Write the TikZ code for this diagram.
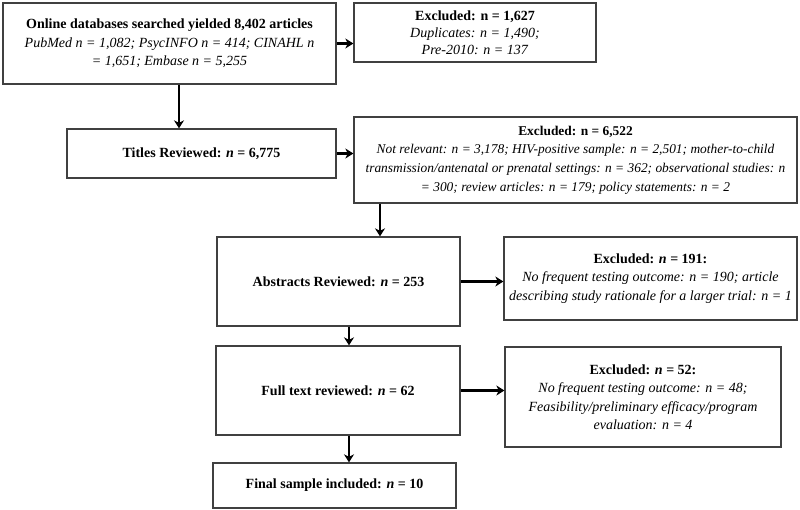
\documentclass[tikz,border=0pt]{standalone}
\usepackage{fontspec}
\setmainfont{Liberation Serif}
\usetikzlibrary{arrows.meta}
\tikzset{
    box/.style={rectangle, draw=black!75, line width=1.3pt, align=center, inner sep=0pt,
        font=\fontsize{14}{18.5}\selectfont},
    arr/.style={line width=2.2pt, -{Stealth[length=8pt, width=10pt, inset=2.5pt]}}
}

\begin{document}
\begin{tikzpicture}[x=1pt, y=-1pt]
    \useasboundingbox (0,0) rectangle (800,510);

    \node (online) [box, minimum width=333pt, minimum height=81pt] at (169.5, 43.5) {\textbf{Online databases searched yielded 8,402 articles}\\ \textit{PubMed n = 1,082; PsycINFO n = 414; CINAHL n}\\ \textit{= 1,651; Embase n = 5,255}};
    \node (excl1627) [box, minimum width=242pt, minimum height=59pt, font=\fontsize{14}{17}\selectfont] at (475, 32.5) {\textbf{Excluded: n = 1,627}\\ \textit{Duplicates: n = 1,490;}\\ \textit{Pre-2010: n = 137}};

    \node (titles) [box, minimum width=269pt, minimum height=49pt] at (201.5, 153.5) {\textbf{Titles Reviewed: \textit{n} = 6,775}};
    \node (excl6522) [box, minimum width=443pt, minimum height=86pt, font=\fontsize{13.4}{18.8}\selectfont] at (575.5, 160) {\textbf{Excluded: n = 6,522}\\ \textit{Not relevant: n = 3,178; HIV-positive sample: n = 2,501; mother-to-child}\\ \textit{transmission/antenatal or prenatal settings: n = 362; observational studies: n}\\ \textit{= 300; review articles: n = 179; policy statements: n = 2}};

    \node (abstracts) [box, minimum width=243pt, minimum height=89pt] at (338.5, 281.5) {\textbf{Abstracts Reviewed: \textit{n} = 253}};
    \node (excl191) [box, minimum width=293pt, minimum height=83pt] at (650.5, 278.5) {\textbf{Excluded: \textit{n} = 191:}\\ \textit{No frequent testing outcome: n = 190; article}\\ \textit{describing study rationale for a larger trial: n = 1}};

    \node (fulltext) [box, minimum width=244pt, minimum height=89pt] at (338, 390.5) {\textbf{Full text reviewed: \textit{n} = 62}};
    \node (excl52) [box, minimum width=276pt, minimum height=100pt] at (643, 397) {\textbf{Excluded: \textit{n} = 52:}\\ \textit{No frequent testing outcome: n = 48;}\\ \textit{Feasibility/preliminary efficacy/program}\\ \textit{evaluation: n = 4}};

    \node (final) [box, minimum width=243pt, minimum height=45pt] at (334.5, 485.5) {\textbf{Final sample included: \textit{n} = 10}};

    % sideways to the exclusions
    \draw[arr] (online.east) -- (online.east -| excl1627.west);
    \draw[arr] (titles.east) -- (titles.east -| excl6522.west);
    \draw[arr] (abstracts.east) -- (abstracts.east -| excl191.west);
    \draw[arr] (fulltext.east) -- (fulltext.east -| excl52.west);

    % down the main line
    \draw[arr] ([xshift=9.5pt]online.south) -- ([xshift=-22.5pt]titles.north);
    \draw[arr] ([xshift=-195.5pt]excl6522.south) -- ([xshift=41.5pt]abstracts.north);
    \draw[arr] ([xshift=10.5pt]abstracts.south) -- ([xshift=11pt]fulltext.north);
    \draw[arr] ([xshift=11pt]fulltext.south) -- ([xshift=14.5pt]final.north);
\end{tikzpicture}
\end{document}
